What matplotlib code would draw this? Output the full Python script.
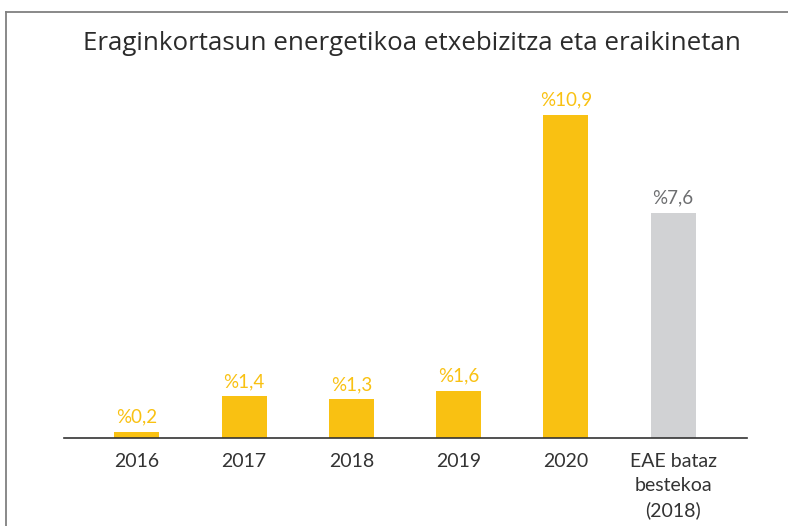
import numpy as np
import matplotlib.pyplot as plt
from matplotlib.lines import Line2D

plt.rcParams['font.family'] = ['Lato', 'DejaVu Sans']

categories = ["2016", "2017", "2018", "2019", "2020", "EAE bataz\nbestekoa\n(2018)"]
values = [0.2, 1.4, 1.3, 1.6, 10.9, 7.6]
value_labels = ["%0,2", "%1,4", "%1,3", "%1,6", "%10,9", "%7,6"]

yellow = "#F9C112"
grey = "#D1D2D4"
colors = [yellow] * 5 + [grey]
label_colors = [yellow] * 5 + ["#6D6E70"]

W, H = 788, 526
fig = plt.figure(figsize=(W / 100, H / 100), dpi=100)
ax = fig.add_axes([64 / W, 88 / H, (747 - 64) / W, (438 - 82) / H])

x = np.arange(len(categories))
bars = ax.bar(x, values, width=0.42, color=colors)
for b, lab, c in zip(bars, value_labels, label_colors):
    ax.annotate(lab, (b.get_x() + b.get_width() / 2, b.get_height()),
                xytext=(0, 4.5), textcoords="offset points",
                ha="center", va="bottom", fontsize=13.5, color=c)

ax.set_xlim(-0.68, 5.69)
ax.set_ylim(0, 12)
ax.set_xticks(x)
ax.set_xticklabels(categories, fontsize=14, color="#333333", linespacing=1.5)
ax.tick_params(axis="x", length=0, pad=10.5)
ax.set_yticks([])
for s in ["top", "right", "left"]:
    ax.spines[s].set_visible(False)
ax.spines["bottom"].set_color("#333333")
ax.spines["bottom"].set_linewidth(1.2)

fig.text(412 / W, 1 - 43 / H, "Eraginkortasun energetikoa etxebizitza eta eraikinetan",
         ha="center", va="center", fontsize=18.6, family=["Open Sans", "DejaVu Sans"],
         color="#2B2B2B")

# frame lines
fig.add_artist(Line2D([6 / W, 1], [1 - 12 / H] * 2, color="#808080", lw=1.3))
fig.add_artist(Line2D([6 / W] * 2, [0, 1 - 12 / H], color="#808080", lw=1.3))

fig.savefig("out.png", dpi=100, facecolor="white")
